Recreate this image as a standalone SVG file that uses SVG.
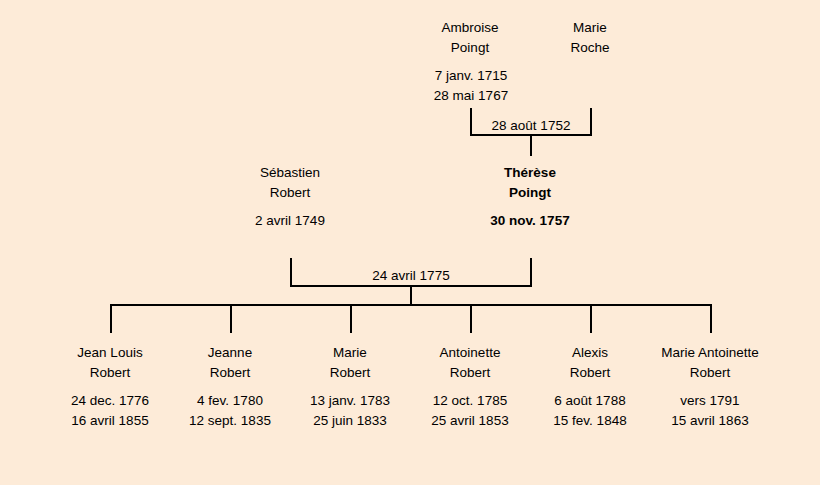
<svg xmlns="http://www.w3.org/2000/svg" width="820" height="485" viewBox="0 0 820 485">
<style>
text{font-family:"Comic Sans MS","Liberation Sans",sans-serif;font-size:13.5px;fill:#000;text-anchor:middle}
.b{font-weight:bold}
.ln{stroke:#000;stroke-width:2;fill:none}
</style>
<rect width="820" height="485" fill="#fdebd8"/>
<g id="connectors">
<path class="ln" d="M471,108V135H591V108M531,135V156"/>
<path class="ln" d="M291,258V286H531V258M411,286V305"/>
<path class="ln" d="M111,333V305H711V333M231,305V333M351,305V333M471,305V333M591,305V333"/>
<text x="531" y="130">28 août 1752</text>
<text x="411" y="280">24 avril 1775</text>
</g>
<g id="ambroise"><text x="470" y="32">Ambroise</text><text x="470" y="52">Poingt</text><text x="471" y="80">7 janv. 1715</text><text x="471" y="100">28 mai 1767</text></g>
<g id="marie-roche"><text x="590" y="32">Marie</text><text x="590" y="52">Roche</text></g>
<g id="sebastien"><text x="290" y="177">Sébastien</text><text x="290" y="197">Robert</text><text x="290" y="225">2 avril 1749</text></g>
<g id="therese"><text class="b" x="530" y="177">Thérèse</text><text class="b" x="530" y="197">Poingt</text><text class="b" x="530" y="225">30 nov. 1757</text></g>
<g id="jean-louis"><text x="110" y="357">Jean Louis</text><text x="110" y="377">Robert</text><text x="110" y="405">24 dec. 1776</text><text x="110" y="425">16 avril 1855</text></g>
<g id="jeanne"><text x="230" y="357">Jeanne</text><text x="230" y="377">Robert</text><text x="230" y="405">4 fev. 1780</text><text x="230" y="425">12 sept. 1835</text></g>
<g id="marie"><text x="350" y="357">Marie</text><text x="350" y="377">Robert</text><text x="350" y="405">13 janv. 1783</text><text x="350" y="425">25 juin 1833</text></g>
<g id="antoinette"><text x="470" y="357">Antoinette</text><text x="470" y="377">Robert</text><text x="470" y="405">12 oct. 1785</text><text x="470" y="425">25 avril 1853</text></g>
<g id="alexis"><text x="590" y="357">Alexis</text><text x="590" y="377">Robert</text><text x="590" y="405">6 août 1788</text><text x="590" y="425">15 fev. 1848</text></g>
<g id="marie-antoinette"><text x="710" y="357">Marie Antoinette</text><text x="710" y="377">Robert</text><text x="710" y="405">vers 1791</text><text x="710" y="425">15 avril 1863</text></g>
</svg>
